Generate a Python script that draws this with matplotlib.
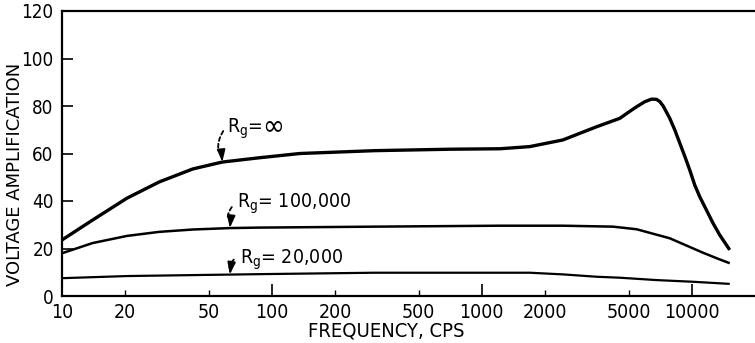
import matplotlib
matplotlib.use('Agg')
import numpy as np
import matplotlib.pyplot as plt
from matplotlib.ticker import FixedLocator, FuncFormatter

plt.rcParams['font.family'] = ['DejaVu Sans']
plt.rcParams['font.stretch'] = 'condensed'
plt.rcParams['mathtext.fontset'] = 'custom'
plt.rcParams['mathtext.rm'] = 'DejaVu Sans:stretch=condensed'

# voltage amplification vs frequency for three grid resistors
freq_inf = [10, 14, 20.4, 29, 42, 58, 87, 136, 309, 705, 1220, 1690, 2430, 3530,
            4540, 4980, 5460, 5970, 6430, 6790, 7050, 7305, 7855, 8300, 8770, 9270,
            9780, 10330, 10910, 11740, 12630, 13580, 15160]
amp_inf = [23.6, 32, 41.2, 48, 53.5, 56.4, 58.2, 60, 61.2, 61.8, 62, 62.9, 65.7, 71.3,
           74.8, 77.3, 79.7, 81.8, 82.9, 82.8, 81.8, 80.0, 74.8, 69.9, 64.3, 58.7,
           53, 46.7, 41.8, 36.2, 30.6, 25.7, 19.4]

freq_100k = [10, 14, 20.4, 29, 42, 63, 87, 309, 1220, 2430, 4210, 5460, 7855, 11320,
             13580, 15160]
amp_100k = [18, 22.3, 25.3, 27, 28, 28.6, 28.8, 29.2, 29.6, 29.6, 29.2, 28.1, 24.3, 18.2,
            15.4, 13.8]

freq_20k = [10, 20.4, 42, 87, 309, 1220, 1690, 2430, 3530, 4540, 6790, 10100, 15160]
amp_20k = [7.5, 8.4, 8.8, 9.2, 9.8, 9.8, 9.8, 9.1, 8.1, 7.7, 6.7, 6.0, 5.1]

decade_ticks = [10, 100, 1000, 10000]
mid_ticks = [20, 50, 200, 500, 2000, 5000]
y_ticks = [0, 20, 40, 60, 80, 100, 120]

curve_labels = ['$\\mathrm{R_g}$=', '$\\mathrm{R_g}$= 100,000', '$\\mathrm{R_g}$= 20,000']
label_tails = ['\u221e', None, None]
pointer_freq = [58, 63, 63]


def pointer(ax, f, fs, amps, label, start, head, text_off, rad, tail=None):
    # tip sits on the curve itself
    y = np.interp(np.log10(f), np.log10(fs), amps)
    head_len = np.hypot(*head) * 0.72
    ax.annotate('', xy=(f, y), xytext=start, textcoords='offset pixels',
                arrowprops=dict(arrowstyle='-', lw=1.3, color='k', ls=(0, (2.2, 1.6)),
                                shrinkA=0, shrinkB=head_len,
                                connectionstyle='arc3,rad=%g' % rad))
    ax.annotate('', xy=(f, y), xytext=head, textcoords='offset pixels',
                arrowprops=dict(arrowstyle='-|>,head_length=0.6,head_width=0.2',
                                lw=1.3, color='k', shrinkA=0, shrinkB=0,
                                mutation_scale=12))
    ax.annotate(label, xy=(f, y), xytext=text_off, textcoords='offset pixels',
                ha='left', va='baseline', fontsize=14)
    if tail:
        # the infinity sign is lettered larger than the rest
        ax.annotate(tail, xy=(f, y), xytext=(text_off[0] + 35, text_off[1] - 1),
                    textcoords='offset pixels', ha='left', va='baseline', fontsize=21)


fig, ax = plt.subplots(figsize=(7.55, 3.43), dpi=100)
plt.subplots_adjust(left=62/755, bottom=47/343, right=1.0, top=332/343)

ax.plot(freq_inf, amp_inf, color='k', lw=2.4, solid_capstyle='butt')
ax.plot(freq_100k, amp_100k, color='k', lw=1.8, solid_capstyle='butt')
ax.plot(freq_20k, amp_20k, color='k', lw=1.6, solid_capstyle='butt')

ax.set_xscale('log')
ax.set_xlim(10, 20000)
ax.set_ylim(0, 120)

fmt = FuncFormatter(lambda v, p: '%d' % round(v))
ax.xaxis.set_major_locator(FixedLocator(decade_ticks))
ax.xaxis.set_minor_locator(FixedLocator(mid_ticks))
ax.xaxis.set_major_formatter(fmt)
ax.xaxis.set_minor_formatter(fmt)
ax.yaxis.set_major_locator(FixedLocator(y_ticks))

ax.tick_params(axis='x', which='major', direction='in', length=9, width=1.2,
               pad=5, labelsize=14)
ax.tick_params(axis='x', which='minor', direction='in', length=4.5, width=1.0,
               pad=5, labelsize=14)
ax.tick_params(axis='y', which='major', direction='in', length=8, width=1.2,
               pad=6, labelsize=13.5)

for side in ['left', 'bottom', 'top']:
    ax.spines[side].set_linewidth(1.6)
ax.spines['right'].set_visible(False)

ax.set_ylabel('VOLTAGE AMPLIFICATION', fontsize=13, fontstretch='normal')
ax.yaxis.set_label_coords(-0.055, 0.425)
ax.set_xlabel('FREQUENCY, CPS', fontsize=14.5)
ax.xaxis.set_label_coords(0.4675, -0.088)

series = [(freq_inf, amp_inf), (freq_100k, amp_100k), (freq_20k, amp_20k)]
starts = [(1, 31), (2, 21), (4, 15)]
heads = [(-1, 12), (1, 9), (1, 7)]
text_offs = [(5, 29), (7, 20), (10, 11)]
for (fs, amps), lab, tail, f, s, h, t in zip(series, curve_labels, label_tails,
                                             pointer_freq, starts, heads, text_offs):
    pointer(ax, f, fs, amps, lab, s, h, t, 0.3, tail)

plt.savefig('out.png', dpi=100)
